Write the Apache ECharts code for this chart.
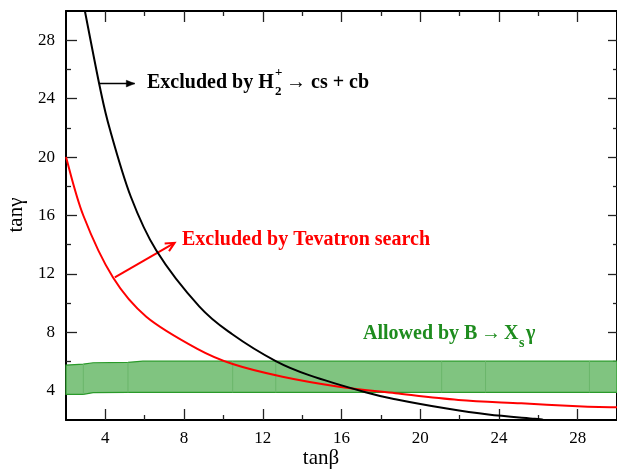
<!DOCTYPE html>
<html><head><meta charset="utf-8">
<script src="https://cdn.jsdelivr.net/npm/echarts@6/dist/echarts.min.js"></script>
<style>html,body{margin:0;padding:0;background:#fff;}#c{width:617px;height:473px;}</style>
</head><body><div id="c"></div>
<script>
// ---- data ----
const xMajorTicks = [4, 8, 12, 16, 20, 24, 28];
const xMinorTicks = [6, 10, 14, 18, 22, 26];
const yMajorTicks = [4, 8, 12, 16, 20, 24, 28];
const yMinorTicks = [6, 10, 14, 18, 22, 26];

// Excluded by H2+ -> cs + cb (black)
const h2X = [2.96, 3.72, 4.23, 5.29, 6.59, 8.78, 10.47, 12.66, 14.35, 17.22, 18.74, 21.27, 23.46, 25.82, 26.3];
const h2Y = [30.0, 24.8, 21.9, 17.3, 13.6, 9.76, 7.85, 6.03, 5.07, 3.9, 3.42, 2.8, 2.37, 2.08, 2.0];

// Excluded by Tevatron search (red)
const tevX = [2.0, 2.88, 4.39, 6.08, 8.7, 10.47, 13.0, 15.87, 18.74, 21.94, 25.14, 28.52, 30.0];
const tevY = [20.0, 16.0, 11.75, 9.07, 6.85, 5.83, 4.96, 4.28, 3.83, 3.37, 3.14, 2.91, 2.88];

// Allowed by B -> Xs gamma (green band)
const bandX     = [2.0, 2.88, 3.38, 5.15, 5.91, 30.0];
const bandLower = [3.76, 3.76, 3.87, 3.89, 3.89, 3.89];
const bandUpper = [5.76, 5.83, 5.92, 5.95, 6.03, 6.03];
const bandBreaks = [2.88, 5.15, 10.47, 12.66, 21.09, 23.32, 28.6];

// annotation arrows (data coordinates: from, to)
const h2Arrow = [[3.72, 25.03], [5.49, 25.03]];
const tevArrow = [[4.48, 11.76], [7.52, 14.13]];

// ---- chart ----
const FONT = '"Liberation Serif","Times New Roman",serif';
function interp(xs, ys, x) {
  for (let i = 0; i < xs.length - 1; i++) {
    if (x >= xs[i] && x <= xs[i + 1]) {
      const t = (x - xs[i]) / (xs[i + 1] - xs[i]);
      return ys[i] + t * (ys[i + 1] - ys[i]);
    }
  }
  return ys[ys.length - 1];
}
function curvePath(api, xs, ys) {
  const p = xs.map((x, i) => api.coord([x, ys[i]]));
  let d = 'M' + p[0][0] + ',' + p[0][1];
  for (let i = 0; i < p.length - 1; i++) {
    const a = p[i - 1] || p[i], b = p[i], c = p[i + 1], e = p[i + 2] || p[i + 1];
    const c1 = [b[0] + (c[0] - a[0]) / 6, b[1] + (c[1] - a[1]) / 6];
    const c2 = [c[0] - (e[0] - b[0]) / 6, c[1] - (e[1] - b[1]) / 6];
    d += 'C' + c1[0] + ',' + c1[1] + ' ' + c2[0] + ',' + c2[1] + ' ' + c[0] + ',' + c[1];
  }
  return d;
}
function arrowShapes(api, arr, color, width, open) {
  const a = api.coord(arr[0]), b = api.coord(arr[1]);
  const ang = Math.atan2(b[1] - a[1], b[0] - a[0]);
  const L = open ? 10 : 9, W = open ? 0.45 : 0.38;
  const l = [b[0] - L * Math.cos(ang - W), b[1] - L * Math.sin(ang - W)];
  const r = [b[0] - L * Math.cos(ang + W), b[1] - L * Math.sin(ang + W)];
  const out = [{type: 'line', shape: {x1: a[0], y1: a[1], x2: b[0], y2: b[1]}, style: {stroke: color, lineWidth: width}}];
  if (open) {
    out.push({type: 'polyline', shape: {points: [l, b, r]}, style: {stroke: color, lineWidth: width, fill: null}});
  } else {
    out.push({type: 'polygon', shape: {points: [l, b, r]}, style: {fill: color, stroke: color, lineWidth: 0.5}});
  }
  return out;
}

const gridBox = {left: 66, top: 11, width: 553, height: 409};

function mkAxis(kind, gi, pos, ticks, len, labels, line) {
  return {
    type: 'value', gridIndex: gi, position: pos, min: 2, max: 30,
    axisLine: {show: line, onZero: false, lineStyle: {color: '#000', width: 2}},
    axisTick: {show: true, inside: true, length: len, customValues: ticks, lineStyle: {color: '#222', width: 1.3}},
    axisLabel: labels ? {show: true, customValues: ticks, margin: kind === 'x' ? 10 : 11, color: '#000', fontFamily: FONT, fontSize: 17} : {show: false},
    splitLine: {show: false}
  };
}

const chart = echarts.init(document.getElementById('c'), null, {renderer: 'canvas'});
const option = {
  animation: false,
  backgroundColor: '#fff',
  grid: [Object.assign({}, gridBox), Object.assign({}, gridBox)],
  xAxis: [
    mkAxis('x', 0, 'bottom', xMajorTicks, 11, true, true),
    mkAxis('x', 0, 'top', xMajorTicks, 11, false, true),
    mkAxis('x', 1, 'bottom', xMinorTicks, 5, false, false),
    mkAxis('x', 1, 'top', xMinorTicks, 5, false, false)
  ],
  yAxis: [
    mkAxis('y', 0, 'left', yMajorTicks, 11, true, true),
    mkAxis('y', 0, 'right', yMajorTicks, 9, false, true),
    mkAxis('y', 1, 'left', yMinorTicks, 5, false, false),
    mkAxis('y', 1, 'right', yMinorTicks, 4, false, false)
  ],
  series: [
    {
      type: 'custom', name: 'Allowed', xAxisIndex: 0, yAxisIndex: 0, z: 1, silent: true,
      data: [0],
      renderItem: function (params, api) {
        const pts = [];
        for (let i = 0; i < bandX.length; i++) pts.push(api.coord([bandX[i], bandUpper[i]]));
        for (let i = bandX.length - 1; i >= 0; i--) pts.push(api.coord([bandX[i], bandLower[i]]));
        const children = [{
          type: 'polygon', shape: {points: pts},
          style: {fill: '#80c480', stroke: '#2a9a2a', lineWidth: 1.2}
        }];
        bandBreaks.forEach(function (bx) {
          const p1 = api.coord([bx, interp(bandX, bandUpper, bx)]);
          const p2 = api.coord([bx, interp(bandX, bandLower, bx)]);
          children.push({type: 'line', shape: {x1: p1[0], y1: p1[1], x2: p2[0], y2: p2[1]},
            style: {stroke: '#6ab66a', lineWidth: 1}});
        });
        return {type: 'group', children: children};
      }
    },
    {
      type: 'custom', name: 'Tevatron', xAxisIndex: 0, yAxisIndex: 0, z: 3, silent: true,
      data: [0],
      renderItem: function (params, api) {
        return {type: 'group', children: [
          {type: 'path', shape: {pathData: curvePath(api, tevX, tevY)}, style: {stroke: '#ff0000', lineWidth: 2, fill: null}}
        ].concat(arrowShapes(api, tevArrow, '#ff0000', 2, true))};
      }
    },
    {
      type: 'custom', name: 'H2', xAxisIndex: 0, yAxisIndex: 0, z: 4, silent: true,
      data: [0],
      renderItem: function (params, api) {
        return {type: 'group', children: [
          {type: 'path', shape: {pathData: curvePath(api, h2X, h2Y)}, style: {stroke: '#000', lineWidth: 2, fill: null}}
        ].concat(arrowShapes(api, h2Arrow, '#000', 1.5, false))};
      }
    }
  ],
  graphic: [
    {type: 'text', x: 147, y: 83, style: {text: 'Excluded by H', fill: '#000', font: 'bold 20px ' + FONT, verticalAlign: 'middle'}},
    {type: 'text', x: 275, y: 92, style: {text: '2', fill: '#000', font: 'bold 13px ' + FONT, verticalAlign: 'middle'}},
    {type: 'text', x: 275, y: 73, style: {text: '+', fill: '#000', font: 'bold 13px ' + FONT, verticalAlign: 'middle'}},
    {type: 'text', x: 286, y: 83, style: {text: '\u2192 cs + cb', fill: '#000', font: 'bold 20px ' + FONT, verticalAlign: 'middle'}},
    {type: 'text', x: 182, y: 240, style: {text: 'Excluded by Tevatron search', fill: '#ff0000', font: 'bold 20px ' + FONT, verticalAlign: 'middle'}},
    {type: 'text', x: 363, y: 334, style: {text: 'Allowed by B', fill: '#1e8c1e', font: 'bold 20px ' + FONT, verticalAlign: 'middle'}},
    {type: 'text', x: 481, y: 334, style: {text: '\u2192', fill: '#1e8c1e', font: 'bold 20px ' + FONT, verticalAlign: 'middle'}},
    {type: 'text', x: 504, y: 334, style: {text: 'X', fill: '#1e8c1e', font: 'bold 20px ' + FONT, verticalAlign: 'middle'}},
    {type: 'text', x: 519, y: 343, style: {text: 's', fill: '#1e8c1e', font: 'bold 14px ' + FONT, verticalAlign: 'middle'}},
    {type: 'text', x: 526, y: 334, style: {text: '\u03b3', fill: '#1e8c1e', font: 'bold 20px ' + FONT, verticalAlign: 'middle'}},
    {type: 'text', x: 16, y: 215, rotation: Math.PI / 2, style: {text: 'tan\u03b3', fill: '#000', font: '21px ' + FONT, align: 'center', verticalAlign: 'middle'}},
    {type: 'text', x: 321, y: 458, style: {text: 'tan\u03b2', fill: '#000', font: '21px ' + FONT, align: 'center', verticalAlign: 'middle'}}
  ]
};
chart.setOption(option);
</script>
</body></html>
